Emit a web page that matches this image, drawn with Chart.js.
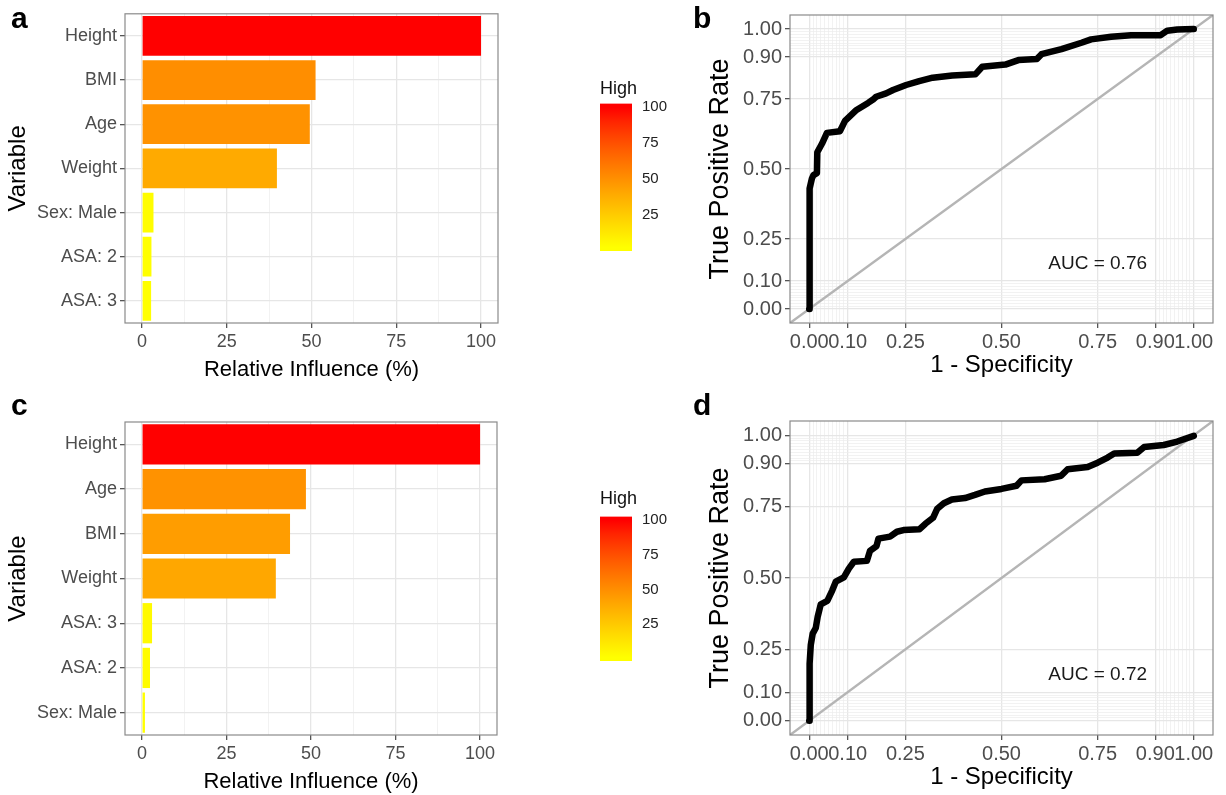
<!DOCTYPE html>
<html>
<head>
<meta charset="utf-8">
<script src="https://cdn.jsdelivr.net/npm/chart.js@4.4.1/dist/chart.umd.min.js"></script>
<style>
  body { margin: 0; background: #fff; }
  #fig { position: relative; width: 1226px; height: 795px; overflow: hidden; font-family: 'Liberation Sans', Arial, sans-serif; }
  #fig canvas { position: absolute; }
  .tag { position: absolute; font-weight: bold; font-size: 30px; line-height: 1; color: #000; }
</style>
</head>
<body>
<div id="fig">
  <canvas id="barA" width="510" height="395" style="left:0;top:0"></canvas>
  <canvas id="barC" width="510" height="395" style="left:0;top:400px"></canvas>
  <canvas id="barA_key" width="110" height="210" style="left:590px;top:60px"></canvas>
  <canvas id="barC_key" width="110" height="210" style="left:590px;top:470px"></canvas>
  <canvas id="rocB" width="526" height="395" style="left:700px;top:0"></canvas>
  <canvas id="rocD" width="526" height="395" style="left:700px;top:400px"></canvas>
  <div class="tag" style="left:11px;top:3px">a</div>
  <div class="tag" style="left:693px;top:3px">b</div>
  <div class="tag" style="left:11px;top:390px">c</div>
  <div class="tag" style="left:693px;top:390px">d</div>
</div>
<script>
// relative influence, panel a
var varsA = ['Height', 'BMI', 'Age', 'Weight', 'Sex: Male', 'ASA: 2', 'ASA: 3'];
var influenceA = [100, 51.2, 49.5, 39.8, 3.4, 2.8, 2.7];

// relative influence, panel c
var varsC = ['Height', 'Age', 'BMI', 'Weight', 'ASA: 3', 'ASA: 2', 'Sex: Male'];
var influenceC = [100, 48.5, 43.8, 39.6, 3.0, 2.4, 0.9];

// ROC curve, panel b
var fprB = [0, 0, 0.002, 0.007, 0.011, 0.02, 0.021, 0.033, 0.046, 0.08,
            0.093, 0.123, 0.153, 0.166, 0.174, 0.2, 0.218, 0.252, 0.286, 0.321,
            0.372, 0.432, 0.45, 0.51, 0.544, 0.592, 0.604, 0.656, 0.708, 0.733,
            0.785, 0.837, 0.914, 0.931, 0.957, 1.0];
var tprB = [0, 0.41, 0.43, 0.466, 0.478, 0.485, 0.56, 0.59, 0.629, 0.635,
            0.672, 0.711, 0.736, 0.748, 0.758, 0.77, 0.782, 0.8, 0.814, 0.826,
            0.834, 0.838, 0.865, 0.873, 0.889, 0.893, 0.91, 0.928, 0.951, 0.963,
            0.972, 0.978, 0.978, 0.994, 0.998, 1.0];

// ROC curve, panel d
var fprD = [0, 0, 0.002, 0.004, 0.009, 0.017, 0.022, 0.03, 0.047, 0.06,
            0.069, 0.09, 0.103, 0.116, 0.15, 0.158, 0.175, 0.18, 0.21, 0.228,
            0.245, 0.287, 0.302, 0.322, 0.333, 0.35, 0.371, 0.405, 0.431, 0.457,
            0.5, 0.539, 0.552, 0.612, 0.655, 0.672, 0.724, 0.75, 0.776, 0.793,
            0.853, 0.871, 0.922, 0.957, 1.0];
var tprD = [0, 0.155, 0.2, 0.265, 0.305, 0.325, 0.364, 0.408, 0.42, 0.457,
            0.487, 0.502, 0.533, 0.557, 0.56, 0.595, 0.612, 0.638, 0.645, 0.662,
            0.668, 0.671, 0.69, 0.711, 0.743, 0.762, 0.775, 0.78, 0.791, 0.803,
            0.812, 0.823, 0.842, 0.846, 0.858, 0.881, 0.889, 0.904, 0.922, 0.936,
            0.939, 0.959, 0.966, 0.978, 0.998];

var aucB = 'AUC = 0.76';
var aucD = 'AUC = 0.72';

// tick labels
var influenceTicks = [0, 25, 50, 75, 100];
var influenceMinor = [12.5, 37.5, 62.5, 87.5];
var keyTicks = [25, 50, 75, 100];
var rocTicks = [0, 0.1, 0.25, 0.5, 0.75, 0.9, 1];
var rocMinor = [];
for (var i = 1; i < 10; i++) { rocMinor.push(i / 100); rocMinor.push(0.9 + i / 100); }

Chart.defaults.font.family = "'Liberation Sans', Arial, sans-serif";

// yellow -> red fill ramp
function ramp(t) {
  var g = Math.round(255 * Math.pow(1 - t, 0.85));
  return 'rgb(255,' + g + ',0)';
}

// full box round the panel, like theme_bw
var panelBorder = {
  id: 'panelBorder',
  afterDraw: function (chart) {
    var a = chart.chartArea, ctx = chart.ctx;
    ctx.save();
    ctx.strokeStyle = '#8a8a8a';
    ctx.lineWidth = 1.2;
    ctx.strokeRect(a.left, a.top, a.right - a.left, a.bottom - a.top);
    ctx.restore();
  }
};

var aucLabel = {
  id: 'aucLabel',
  afterDatasetsDraw: function (chart, args, opts) {
    var ctx = chart.ctx;
    ctx.save();
    ctx.font = '19px ' + Chart.defaults.font.family;
    ctx.fillStyle = '#1a1a1a';
    ctx.textAlign = 'center';
    ctx.textBaseline = 'middle';
    ctx.fillText(opts.text, chart.scales.x.getPixelForValue(opts.x), chart.scales.y.getPixelForValue(opts.y));
    ctx.restore();
  }
};

function near(list, v) { return list.some(function (b) { return Math.abs(b - v) < 1e-9; }); }

function setTicks(major, minor) {
  return function (scale) {
    scale.ticks = major.concat(minor).map(function (v) { return { value: v }; });
  };
}

function gridOpts(major) {
  return {
    color: function (c) { return c.tick && near(major, c.tick.value) ? '#e6e6e6' : '#ececec'; },
    lineWidth: function (c) { return c.tick && near(major, c.tick.value) ? 1.3 : 0.7; },
    tickColor: function (c) { return c.tick && near(major, c.tick.value) ? '#555' : 'rgba(0,0,0,0)'; },
    tickLength: 5
  };
}

function barChart(id, labels, values, pad) {
  var vmin = Math.min.apply(null, values), vmax = Math.max.apply(null, values);
  return new Chart(document.getElementById(id), {
    type: 'bar',
    data: {
      labels: labels,
      datasets: [{
        data: values,
        backgroundColor: values.map(function (v) { return ramp((v - vmin) / (vmax - vmin)); }),
        barPercentage: 0.9,
        categoryPercentage: 1,
        borderWidth: 0
      }]
    },
    options: {
      indexAxis: 'y',
      responsive: false,
      animation: false,
      layout: { padding: pad },
      plugins: { legend: { display: false }, tooltip: { enabled: false } },
      scales: {
        x: {
          type: 'linear', min: -5, max: 105,
          afterBuildTicks: setTicks(influenceTicks, influenceMinor),
          afterFit: function (s) { s.height = 60; },
          grid: gridOpts(influenceTicks),
          border: { display: false },
          ticks: {
            autoSkip: false, maxRotation: 0, padding: 3, font: { size: 18 }, color: '#4d4d4d',
            callback: function (v) { return near(influenceTicks, v) ? String(v) : ''; }
          },
          title: { display: true, text: 'Relative Influence (%)', font: { size: 22 }, color: '#000', padding: { top: 0, bottom: 0 } }
        },
        y: {
          offset: true,
          afterFit: function (s) { s.width = 125; },
          grid: { offset: false, color: '#e6e6e6', lineWidth: 1.3, tickColor: '#555', tickLength: 5 },
          border: { display: false },
          ticks: { padding: 3, font: { size: 18 }, color: '#4d4d4d' },
          title: { display: true, text: 'Variable', font: { size: 24 }, color: '#000', padding: { top: 4, bottom: 0 } }
        }
      }
    },
    plugins: [panelBorder]
  });
}

function keyChart(id, values, titlePad, pad) {
  var vmin = Math.min.apply(null, values), vmax = Math.max.apply(null, values);
  var half = (vmax - vmin) / 19 / 2;
  var lo = vmin - half, hi = vmax + half;
  return new Chart(document.getElementById(id), {
    type: 'bar',
    data: {
      labels: [''],
      datasets: [{
        data: [[lo, hi]],
        barPercentage: 1,
        categoryPercentage: 1,
        borderWidth: 0,
        backgroundColor: function (c) {
          var ch = c.chart;
          if (!ch.chartArea || !ch.scales.y) return ramp(0.5);
          var y0 = ch.scales.y.getPixelForValue(vmin), y1 = ch.scales.y.getPixelForValue(vmax);
          var g = ch.ctx.createLinearGradient(0, y0, 0, y1);
          for (var k = 0; k <= 10; k++) g.addColorStop(k / 10, ramp(k / 10));
          return g;
        }
      }]
    },
    options: {
      responsive: false,
      animation: false,
      layout: { padding: pad },
      plugins: {
        legend: { display: false },
        tooltip: { enabled: false },
        title: { display: true, text: 'High', align: 'start', color: '#111', font: { size: 18, weight: 'normal' }, padding: titlePad }
      },
      scales: {
        x: { display: false },
        y: {
          position: 'right', min: lo, max: hi,
          afterBuildTicks: setTicks(keyTicks, []),
          afterFit: function (s) { s.width = 68; },
          grid: { display: false, drawTicks: false },
          border: { display: false },
          ticks: { padding: 10, font: { size: 15 }, color: '#222' }
        }
      }
    }
  });
}

function rocChart(id, fpr, tpr, auc, pad) {
  return new Chart(document.getElementById(id), {
    type: 'scatter',
    data: {
      datasets: [{
        data: fpr.map(function (x, k) { return { x: x, y: tpr[k] }; }),
        showLine: true, borderColor: '#000', borderWidth: 6.5, pointRadius: 0,
        borderJoinStyle: 'round', borderCapStyle: 'round'
      }, {
        data: [{ x: -0.05, y: -0.05 }, { x: 1.05, y: 1.05 }],
        showLine: true, borderColor: '#b5b5b5', borderWidth: 2.4, pointRadius: 0
      }]
    },
    options: {
      responsive: false,
      animation: false,
      layout: { padding: pad },
      plugins: {
        legend: { display: false }, tooltip: { enabled: false },
        aucLabel: { text: auc, x: 0.75, y: 0.16 }
      },
      scales: {
        x: {
          type: 'linear', min: -0.05, max: 1.05,
          afterBuildTicks: setTicks(rocTicks, rocMinor),
          afterFit: function (s) { s.height = 60; },
          grid: gridOpts(rocTicks),
          border: { display: false },
          ticks: {
            autoSkip: false, maxRotation: 0, minRotation: 0, padding: 2, font: { size: 20 }, color: '#4d4d4d',
            callback: function (v) { return near(rocTicks, v) ? v.toFixed(2) : ''; }
          },
          title: { display: true, text: '1 - Specificity', font: { size: 24 }, color: '#000', padding: { top: 0, bottom: 3 } }
        },
        y: {
          type: 'linear', min: -0.05, max: 1.05,
          afterBuildTicks: setTicks(rocTicks, rocMinor),
          afterFit: function (s) { s.width = 90; },
          grid: gridOpts(rocTicks),
          border: { display: false },
          ticks: {
            autoSkip: false, padding: 3, font: { size: 20 }, color: '#4d4d4d',
            callback: function (v) { return near(rocTicks, v) ? v.toFixed(2) : ''; }
          },
          title: { display: true, text: 'True Positive Rate', font: { size: 27 }, color: '#000', padding: { top: 4, bottom: 0 } }
        }
      }
    },
    plugins: [panelBorder, aucLabel]
  });
}

barChart('barA', varsA, influenceA, { top: 10, right: 12, bottom: 12, left: 0 });
barChart('barC', varsC, influenceC, { top: 22, right: 13, bottom: 0, left: 0 });
keyChart('barA_key', influenceA, { top: 18, bottom: 4 }, { top: 0, right: 0, bottom: 12, left: 10 });
keyChart('barC_key', influenceC, { top: 18, bottom: 7 }, { top: 0, right: 0, bottom: 10, left: 10 });
rocChart('rocB', fprB, tprB, aucB, { top: 11, right: 13, bottom: 12, left: 0 });
rocChart('rocD', fprD, tprD, aucD, { top: 21, right: 13, bottom: 0, left: 0 });
</script>
</body>
</html>
